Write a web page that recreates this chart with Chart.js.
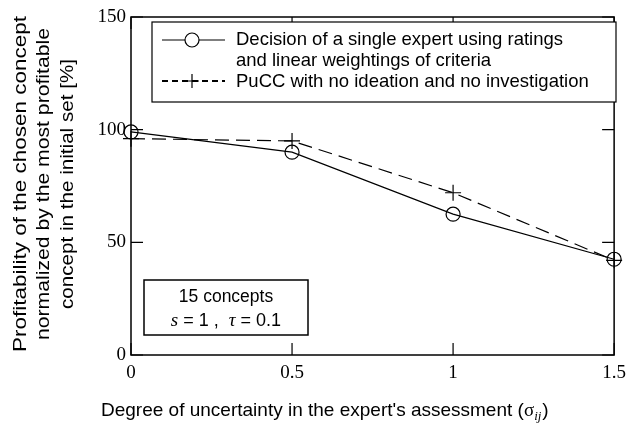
<!DOCTYPE html>
<html>
<head>
<meta charset="utf-8">
<script src="https://cdn.jsdelivr.net/npm/chart.js@4"></script>
<style>
  html, body { margin: 0; padding: 0; background: #fff; }
  #wrap { width: 633px; height: 426px; }
</style>
</head>
<body>
<div id="wrap"><canvas id="grafico" width="633" height="426"></canvas></div>
<script>
// dados
const sigmas = [0, 0.5, 1, 1.5];
const especialista = [99, 90, 62.5, 42.5];
const pucc = [96, 95, 72, 42];
const xTicks = ["0", "0.5", "1", "1.5"];
const yTicks = ["0", "50", "100", "150"];
const legendaLinhas = [
  "Decision of a single expert using ratings",
  "and linear weightings of criteria",
  "PuCC with no ideation and no investigation"
];

const sans = "'Liberation Sans', Arial, sans-serif";
const serif = "'Liberation Serif', 'Times New Roman', serif";

// escreve texto esticando até a largura desejada
function textoAjustado(ctx, txt, x, y, largura) {
  const w = ctx.measureText(txt).width;
  ctx.save();
  ctx.translate(x, y);
  ctx.scale(largura / w, 1);
  ctx.fillText(txt, 0, 0);
  ctx.restore();
}

// moldura, ticks internos, legenda, caixa de texto e títulos dos eixos
const extras = {
  id: "extras",
  afterDraw(chart) {
    const ctx = chart.ctx;
    const a = chart.chartArea;
    const sx = chart.scales.x, sy = chart.scales.y;
    ctx.save();
    ctx.strokeStyle = "#000";
    ctx.lineWidth = 1.5;
    ctx.strokeRect(a.left, a.top, a.right - a.left, a.bottom - a.top);

    // ticks para dentro
    const tl = 12;
    ctx.lineWidth = 1.2;
    ctx.beginPath();
    xTicks.forEach(t => {
      const px = sx.getPixelForValue(parseFloat(t));
      ctx.moveTo(px, a.bottom); ctx.lineTo(px, a.bottom - tl);
      ctx.moveTo(px, a.top); ctx.lineTo(px, a.top + tl);
    });
    yTicks.forEach(t => {
      const py = sy.getPixelForValue(parseFloat(t));
      ctx.moveTo(a.left, py); ctx.lineTo(a.left + tl, py);
      ctx.moveTo(a.right, py); ctx.lineTo(a.right - tl, py);
    });
    ctx.stroke();

    // legenda
    const lx = 152, ly = 22, lw = 464, lh = 80;
    ctx.fillStyle = "#fff";
    ctx.fillRect(lx, ly, lw, lh);
    ctx.lineWidth = 1.2;
    ctx.strokeRect(lx, ly, lw, lh);
    ctx.fillStyle = "#000";
    ctx.font = "18.5px " + sans;
    ctx.textBaseline = "middle";
    ctx.textAlign = "left";
    ctx.fillText(legendaLinhas[0], 236, 40);
    ctx.fillText(legendaLinhas[1], 236, 61);
    ctx.fillText(legendaLinhas[2], 236, 82);
    // amostras
    ctx.lineWidth = 1.2;
    ctx.beginPath();
    ctx.moveTo(162, 40); ctx.lineTo(185, 40);
    ctx.moveTo(199, 40); ctx.lineTo(225, 40);
    ctx.stroke();
    ctx.beginPath();
    ctx.arc(192, 40, 7, 0, Math.PI * 2);
    ctx.stroke();
    ctx.setLineDash([6, 4]);
    ctx.lineWidth = 2;
    ctx.beginPath();
    ctx.moveTo(162, 81); ctx.lineTo(225, 81);
    ctx.stroke();
    ctx.setLineDash([]);
    ctx.lineWidth = 1.2;
    ctx.beginPath();
    ctx.moveTo(192, 74); ctx.lineTo(192, 88);
    ctx.moveTo(185, 81); ctx.lineTo(199, 81);
    ctx.stroke();

    // caixa de texto
    ctx.fillStyle = "#fff";
    ctx.fillRect(144, 280, 164, 55);
    ctx.lineWidth = 1.5;
    ctx.strokeRect(144, 280, 164, 55);
    ctx.fillStyle = "#000";
    ctx.textAlign = "center";
    ctx.font = "17.5px " + sans;
    ctx.fillText("15 concepts", 226, 297);
    const partes = [
      ["s", "italic 19px " + serif], [" = 1 ,  ", "18px " + sans],
      ["τ", "italic 19px " + serif], [" = 0.1", "18px " + sans]
    ];
    let total = 0;
    partes.forEach(p => { ctx.font = p[1]; total += ctx.measureText(p[0]).width; });
    let cx = 226 - total / 2;
    ctx.textAlign = "left";
    partes.forEach(p => {
      ctx.font = p[1];
      ctx.fillText(p[0], cx, 321);
      cx += ctx.measureText(p[0]).width;
    });

    // título eixo x
    ctx.font = "19px " + sans;
    ctx.textBaseline = "alphabetic";
    let x0 = 101;
    const base = 416;
    const t1 = "Degree of uncertainty in the expert's assessment (";
    ctx.fillText(t1, x0, base);
    x0 += ctx.measureText(t1).width;
    ctx.font = "19px " + serif;
    ctx.fillText("σ", x0, base);
    x0 += ctx.measureText("σ").width;
    ctx.font = "italic 13px " + serif;
    ctx.fillText("ij", x0, base + 4);
    x0 += ctx.measureText("ij").width + 1;
    ctx.font = "19px " + sans;
    ctx.fillText(")", x0, base);

    // título eixo y
    ctx.translate(0, 184);
    ctx.rotate(-Math.PI / 2);
    ctx.textAlign = "left";
    ctx.textBaseline = "middle";
    ctx.font = "18.5px " + sans;
    const linhasY = [
      ["Profitability of the chosen concept", 21, 336],
      ["normalized by the most profitable", 44, 312],
      ["concept in the initial set [%]", 68, 250]
    ];
    linhasY.forEach(l => textoAjustado(ctx, l[0], -l[2] / 2, l[1], l[2]));
    ctx.restore();
  }
};

new Chart(document.getElementById("grafico"), {
  type: "line",
  data: {
    datasets: [
      {
        label: legendaLinhas[0] + " " + legendaLinhas[1],
        data: sigmas.map((s, i) => ({ x: s, y: especialista[i] })),
        borderColor: "#000",
        borderWidth: 1.2,
        pointStyle: "circle",
        pointRadius: 7,
        pointBorderWidth: 1.2,
        pointBackgroundColor: "rgba(0,0,0,0)",
        pointBorderColor: "#000",
        clip: 12
      },
      {
        label: legendaLinhas[2],
        data: sigmas.map((s, i) => ({ x: s, y: pucc[i] })),
        borderColor: "#000",
        borderWidth: 1.2,
        borderDash: [14, 7],
        pointStyle: "cross",
        pointRadius: 8,
        pointBorderWidth: 1.2,
        pointBorderColor: "#000",
        clip: 12
      }
    ]
  },
  options: {
    responsive: false,
    animation: false,
    layout: { padding: { top: 17, right: 16, left: 0, bottom: 0 } },
    plugins: { legend: { display: false }, tooltip: { enabled: false } },
    scales: {
      x: {
        type: "linear",
        min: 0, max: 1.5,
        afterFit: s => { s.height = 71; },
        afterBuildTicks: s => { s.ticks = xTicks.map(t => ({ value: parseFloat(t) })); },
        grid: { display: false, drawTicks: false },
        border: { display: false },
        ticks: {
          callback: (v, i) => xTicks[i],
          color: "#000",
          font: { family: serif, size: 19 },
          padding: 7,
          maxRotation: 0
        }
      },
      y: {
        min: 0, max: 150,
        afterFit: s => { s.width = 131; },
        afterBuildTicks: s => { s.ticks = yTicks.map(t => ({ value: parseFloat(t) })); },
        grid: { display: false, drawTicks: false },
        border: { display: false },
        ticks: {
          callback: (v, i) => yTicks[i],
          color: "#000",
          font: { family: serif, size: 19 },
          padding: 5
        }
      }
    }
  },
  plugins: [extras]
});
</script>
</body>
</html>
